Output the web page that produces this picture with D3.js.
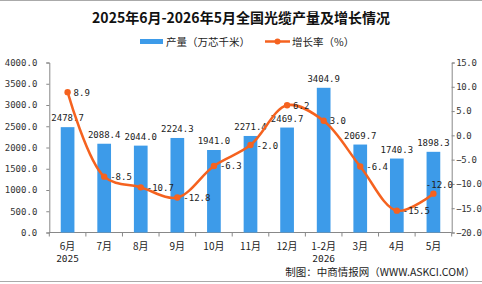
<!DOCTYPE html>
<html>
<head>
<meta charset="utf-8">
<script src="https://cdn.jsdelivr.net/npm/d3@7"></script>
<style>
  body { margin: 0; background: #fff; }
  svg { display: block; }
</style>
</head>
<body>
<div id="chart"></div>
<script>
// data
const months = ["6月", "7月", "8月", "9月", "10月", "11月", "12月", "1-2月", "3月", "4月", "5月"];
const years = ["2025", "", "", "", "", "", "", "2026", "", "", ""];
const output = [2478.7, 2088.4, 2044.0, 2224.3, 1941.0, 2271.4, 2469.7, 3404.9, 2069.7, 1740.3, 1898.3];
const growth = [8.9, -8.5, -10.7, -12.8, -6.3, -2.0, 6.2, 3.0, -6.4, -15.5, -12.0];
const leftTicks = [0, 500, 1000, 1500, 2000, 2500, 3000, 3500, 4000];
const rightTicks = [-20, -15, -10, -5, 0, 5, 10, 15];

const W = 482, H = 284;
const plotLeft = 49.3, plotRight = 451.7, plotTop = 62.5, plotBottom = 232.5;
const barColor = "#3d9be9";
const lineColor = "#f5621f";
const monoFont = "'DejaVu Sans Mono', monospace";
const cjkFont = "'Noto Sans CJK SC', sans-serif";

const svg = d3.select("#chart").append("svg")
    .attr("width", W)
    .attr("height", H);

// thin frame lines top and bottom
svg.append("line").attr("x1", 0).attr("x2", W).attr("y1", 0.5).attr("y2", 0.5)
    .style("stroke", "#aaa");
svg.append("line").attr("x1", 0).attr("x2", W).attr("y1", 281.5).attr("y2", 281.5)
    .style("stroke", "#aaa");

const x = d3.scaleBand().domain(months).range([plotLeft, plotRight]).padding(0);
const yL = d3.scaleLinear().domain([0, 4000]).range([plotBottom, plotTop]);
const yR = d3.scaleLinear().domain([-20, 15]).range([plotBottom, plotTop]);

// title
svg.append("text")
    .attr("x", 241).attr("y", 23)
    .attr("text-anchor", "middle")
    .style("font-family", cjkFont)
    .style("font-size", "14px")
    .style("font-weight", "bold")
    .style("fill", "#111")
    .text("2025年6月-2026年5月全国光缆产量及增长情况");

// legend
const legend = svg.append("g").style("font-family", cjkFont).style("font-size", "10.5px").style("fill", "#222");
legend.append("rect").attr("x", 140).attr("y", 39).attr("width", 23).attr("height", 5).attr("fill", barColor);
legend.append("text").attr("x", 166).attr("y", 45.5).text("产量（万芯千米）");
legend.append("line").attr("x1", 265).attr("x2", 290).attr("y1", 41.5).attr("y2", 41.5)
    .style("stroke", lineColor).style("stroke-width", 2.5);
legend.append("circle").attr("cx", 277.5).attr("cy", 41.5).attr("r", 3).attr("fill", lineColor);
legend.append("text").attr("x", 292).attr("y", 45.5).text("增长率（%）");

// axes
const axisL = d3.axisLeft(yL).tickValues(leftTicks).tickSize(3).tickPadding(9)
    .tickFormat(d3.format(".1f"));
const gL = svg.append("g").attr("transform", `translate(${plotLeft},0)`).call(axisL);

const axisR = d3.axisRight(yR).tickValues(rightTicks).tickSize(3).tickPadding(1.5)
    .tickFormat(d3.format(".1f"));
const gR = svg.append("g").attr("transform", `translate(${plotRight},0)`).call(axisR);

[gL, gR].forEach(g => {
    g.selectAll("path, line").style("stroke", "#888");
    g.selectAll("text").style("font-family", monoFont).style("font-size", "9px").style("fill", "#333");
});
// squeeze the right labels a little so they stay inside the window
gR.selectAll("text").style("letter-spacing", "-0.35px");

// x axis with ticks at band boundaries
const gX = svg.append("g");
gX.append("line").attr("x1", plotLeft).attr("x2", plotRight).attr("y1", plotBottom).attr("y2", plotBottom)
    .style("stroke", "#888");
const bounds = months.map(m => x(m)).concat([plotRight]);
gX.selectAll("line.tick").data(bounds).enter().append("line")
    .attr("class", "tick")
    .attr("x1", d => d).attr("x2", d => d)
    .attr("y1", plotBottom).attr("y2", plotBottom + 4)
    .style("stroke", "#888");
gX.selectAll("text.month").data(months).enter().append("text")
    .attr("class", "month")
    .attr("x", d => x(d) + x.bandwidth() / 2)
    .attr("y", 250)
    .attr("text-anchor", "middle")
    .style("font-family", cjkFont).style("font-size", "10px").style("fill", "#222")
    .text(d => d);
gX.selectAll("text.year").data(years).enter().append("text")
    .attr("class", "year")
    .attr("x", (d, i) => x(months[i]) + x.bandwidth() / 2)
    .attr("y", 262)
    .attr("text-anchor", "middle")
    .style("font-family", monoFont).style("font-size", "9.5px").style("fill", "#222")
    .text(d => d);

// bars
const barW = 13.7;
svg.append("g").selectAll("rect")
    .data(output)
    .enter()
    .append("rect")
    .attr("x", (d, i) => x(months[i]) + x.bandwidth() / 2 - barW / 2)
    .attr("y", d => yL(d))
    .attr("width", barW)
    .attr("height", d => plotBottom - yL(d))
    .attr("fill", barColor);

// bar labels
svg.append("g").selectAll("text")
    .data(output)
    .enter()
    .append("text")
    .attr("x", (d, i) => x(months[i]) + x.bandwidth() / 2)
    .attr("y", d => yL(d) - 6)
    .attr("text-anchor", "middle")
    .style("font-family", monoFont).style("font-size", "9px").style("fill", "#222")
    .text(d => d.toFixed(1));

// growth line
const pts = growth.map((d, i) => [x(months[i]) + x.bandwidth() / 2, yR(d)]);
svg.append("path")
    .datum(pts)
    .attr("d", d3.line().curve(d3.curveCatmullRom.alpha(0.5)))
    .style("fill", "none")
    .style("stroke", lineColor)
    .style("stroke-width", 2.5);

svg.append("g").selectAll("circle")
    .data(pts)
    .enter()
    .append("circle")
    .attr("cx", d => d[0]).attr("cy", d => d[1])
    .attr("r", 3.2)
    .attr("fill", lineColor);

// growth labels, right of each point (last one sits above)
const last = growth.length - 1;
svg.append("g").selectAll("text")
    .data(growth)
    .enter()
    .append("text")
    .attr("x", (d, i) => pts[i][0] + 6)
    .attr("y", (d, i) => i === last ? pts[i][1] - 6 : pts[i][1] + 3.5)
    .attr("text-anchor", (d, i) => i === last ? "middle" : "start")
    .style("font-family", monoFont).style("font-size", "9px").style("fill", "#222")
    .text(d => d.toFixed(1));

// source
svg.append("text")
    .attr("x", 475).attr("y", 276)
    .attr("text-anchor", "end")
    .style("font-family", cjkFont).style("font-size", "10.5px").style("fill", "#222")
    .text("制图：中商情报网（WWW.ASKCI.COM）");
</script>
</body>
</html>
